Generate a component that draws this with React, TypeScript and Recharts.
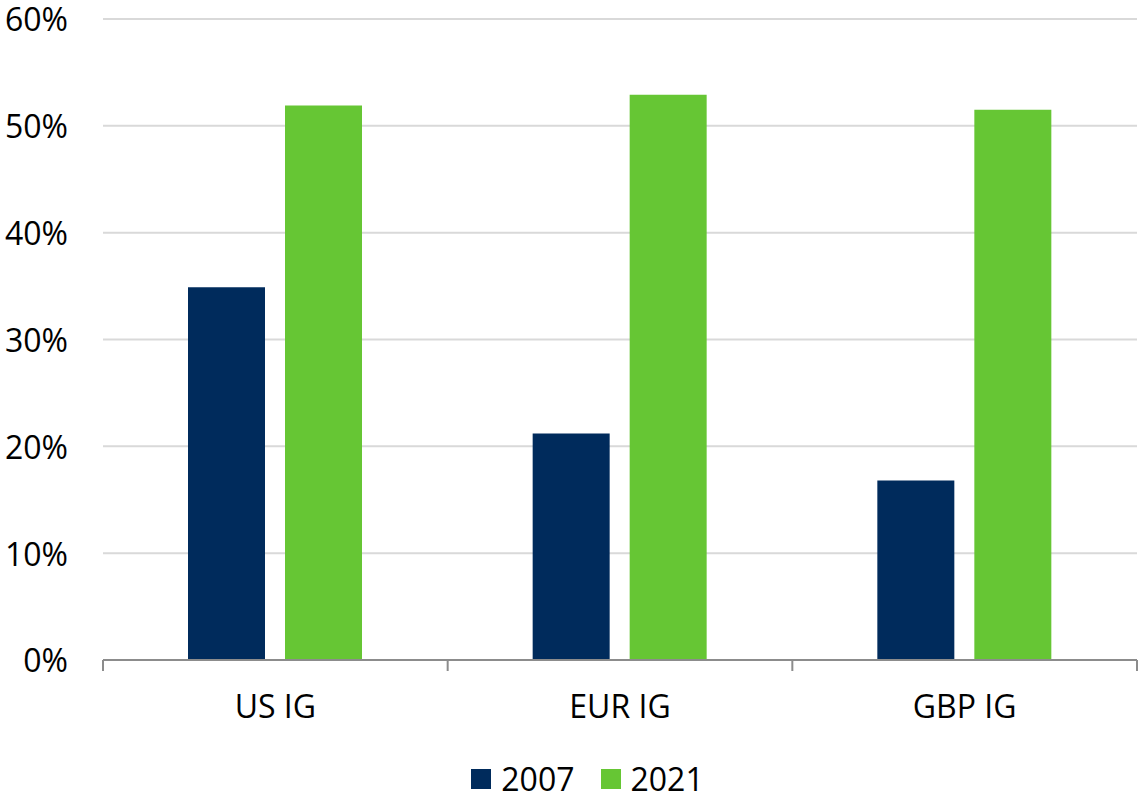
import { BarChart, Bar, XAxis, YAxis, CartesianGrid, Legend } from 'recharts';

const categories = ['US IG', 'EUR IG', 'GBP IG'];
const values2007 = [34.9, 21.2, 16.8];
const values2021 = [51.9, 52.9, 51.5];
const yTicks = [0, 10, 20, 30, 40, 50, 60];
const seriesNames = ['2007', '2021'];

const data = categories.map((name, i) => ({
  name,
  y2007: values2007[i],
  y2021: values2021[i],
}));

const FONT = '"Open Sans", "Noto Sans", sans-serif';
const NAVY = '#002B5C';
const GREEN = '#66C634';
const AXIS = '#8c8c8c';
const FS = 32;

function CategoryTick(props: any) {
  const { x, y, payload, index, visibleTicksCount } = props;
  const half = payload?.offset ?? 172.3;
  const last = index === (visibleTicksCount ?? categories.length) - 1;
  return (
    <g>
      <line x1={x - half} x2={x - half} y1={y} y2={y + 11} stroke={AXIS} strokeWidth={2} />
      {last && <line x1={x + half} x2={x + half} y1={y} y2={y + 11} stroke={AXIS} strokeWidth={2} />}
      <text x={x} y={y + 58} textAnchor="middle" fontSize={FS} fontFamily={FONT} fill="#000">
        {payload.value}
      </text>
    </g>
  );
}

function LegendBox() {
  const colors = [NAVY, GREEN];
  return (
    <div
      style={{
        display: 'flex',
        justifyContent: 'center',
        alignItems: 'center',
        height: 66,
        paddingTop: 32,
        paddingLeft: 38,
        boxSizing: 'border-box',
        fontFamily: FONT,
        fontSize: FS,
        color: '#000',
        gap: 26,
      }}
    >
      {seriesNames.map((s, i) => (
        <div key={s} style={{ display: 'flex', alignItems: 'center', gap: 10 }}>
          <span style={{ width: 20, height: 20, background: colors[i], display: 'inline-block' }} />
          <span style={{ lineHeight: '34px' }}>{s}</span>
        </div>
      ))}
    </div>
  );
}

export default function App() {
  return (
    <div style={{ position: 'absolute', left: 0, top: 0, width: 1139, height: 798, background: '#fff' }}>
      <BarChart
        width={1139}
        height={798}
        data={data}
        margin={{ top: 19, right: 2, bottom: 2, left: 0 }}
        barGap={20}
        barSize={77}
      >
        <CartesianGrid vertical={false} stroke="#d9d9d9" strokeWidth={2} />
        <XAxis
          dataKey="name"
          tick={<CategoryTick />}
          tickLine={false}
          tickSize={0}
          tickMargin={0}
          axisLine={{ stroke: AXIS, strokeWidth: 2 }}
          height={70}
          interval={0}
        />
        <YAxis
          domain={[0, 60]}
          ticks={yTicks}
          width={103}
          axisLine={false}
          tickLine={false}
          tickSize={0}
          tickMargin={35}
          tickFormatter={(v: number) => `${v}%`}
          tick={{ fontSize: FS, fontFamily: FONT, fill: '#000', dy: 1 }}
        />
        <Legend verticalAlign="bottom" align="center" height={66} content={<LegendBox />} />
        <Bar dataKey="y2007" name="2007" fill={NAVY} isAnimationActive={false} />
        <Bar dataKey="y2021" name="2021" fill={GREEN} isAnimationActive={false} />
      </BarChart>
    </div>
  );
}
